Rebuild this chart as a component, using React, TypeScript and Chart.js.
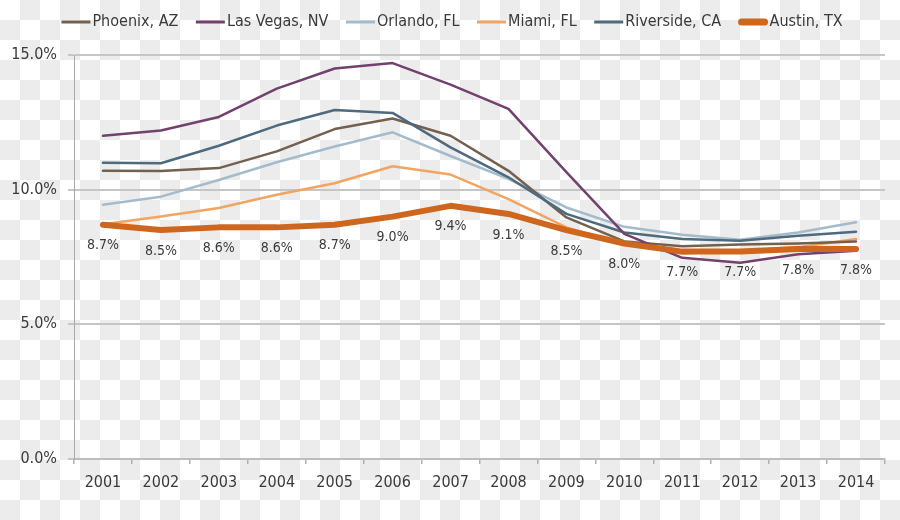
import React, { useEffect, useRef } from 'react';
import { Chart, registerables } from 'chart.js';

Chart.register(...registerables);

const FONT = "'DejaVu Sans Condensed', 'Liberation Sans Narrow', 'DejaVu Sans', sans-serif";
const TEXT = '#3a3a3a';

const years = ['2001', '2002', '2003', '2004', '2005', '2006', '2007', '2008', '2009', '2010', '2011', '2012', '2013', '2014'];
const yTicks = [0, 5, 10, 15];

const phoenix = [10.7, 10.69, 10.8, 11.42, 12.25, 12.64, 12.0, 10.7, 8.97, 8.08, 7.9, 7.96, 8.0, 8.08];
const lasVegas = [12.0, 12.2, 12.7, 13.75, 14.5, 14.7, 13.9, 13.0, 10.65, 8.36, 7.47, 7.29, 7.6, 7.73];
const orlando = [9.44, 9.74, 10.36, 11.02, 11.6, 12.13, 11.25, 10.4, 9.34, 8.62, 8.33, 8.14, 8.41, 8.79];
const miami = [8.72, 9.0, 9.32, 9.81, 10.24, 10.87, 10.56, 9.65, 8.6, 7.98, 7.63, 7.73, 7.86, 8.17];
const riverside = [11.0, 10.98, 11.63, 12.38, 12.96, 12.85, 11.57, 10.46, 9.1, 8.41, 8.17, 8.1, 8.29, 8.44];
const austin = [8.7, 8.5, 8.6, 8.6, 8.7, 9.0, 9.4, 9.1, 8.5, 8.0, 7.7, 7.7, 7.8, 7.8];

const legendPlugin = {
  id: 'topLegend',
  afterDraw(chart: any) {
    const ctx = chart.ctx;
    ctx.save();
    ctx.font = `16px ${FONT}`;
    const lineLen = 29;
    const gap = 2;
    const itemGap = 17.5;
    const items = chart.data.datasets.map((ds: any) => ({ label: ds.label, color: ds.borderColor, w: ds.borderWidth }));
    const widths = items.map((it: any) => lineLen + gap + ctx.measureText(it.label).width);
    const total = widths.reduce((a: number, b: number) => a + b, 0) + itemGap * (items.length - 1);
    let x = 452 - total / 2;
    const y = 22;
    items.forEach((it: any, i: number) => {
      ctx.strokeStyle = it.color;
      ctx.lineWidth = it.w > 4 ? 7 : 3;
      ctx.lineCap = it.w > 4 ? 'round' : 'butt';
      ctx.beginPath();
      const inset = it.w > 4 ? 3 : 0;
      ctx.moveTo(x + inset, y);
      ctx.lineTo(x + lineLen - inset, y);
      ctx.stroke();
      ctx.fillStyle = TEXT;
      ctx.textAlign = 'left';
      ctx.textBaseline = 'middle';
      ctx.fillText(it.label, x + lineLen + gap, y);
      x += widths[i] + itemGap;
    });
    ctx.restore();
  },
};

const labelPlugin = {
  id: 'austinLabels',
  afterDatasetsDraw(chart: any) {
    const idx = chart.data.datasets.findIndex((d: any) => d.label === 'Austin, TX');
    if (idx < 0) return;
    const meta = chart.getDatasetMeta(idx);
    const ctx = chart.ctx;
    ctx.save();
    ctx.font = `14px ${FONT}`;
    ctx.fillStyle = TEXT;
    ctx.textAlign = 'center';
    ctx.textBaseline = 'middle';
    meta.data.forEach((pt: any, i: number) => {
      ctx.fillText(austin[i].toFixed(1) + '%', pt.x, pt.y + 21);
    });
    ctx.restore();
  },
};

export default function App() {
  const ref = useRef<HTMLCanvasElement | null>(null);

  useEffect(() => {
    if (!ref.current) return;
    const mk = (label: string, data: number[], color: string, width: number, order: number) => ({
      label,
      data,
      borderColor: color,
      backgroundColor: color,
      borderWidth: width,
      pointRadius: 0,
      tension: 0,
      fill: false,
      order,
      borderJoinStyle: 'round' as const,
      borderCapStyle: 'round' as const,
    });
    const chart = new Chart(ref.current, {
      type: 'line',
      data: {
        labels: years,
        datasets: [
          mk('Phoenix, AZ', phoenix, '#74604f', 2.5, 3),
          mk('Las Vegas, NV', lasVegas, '#72416e', 2.5, 1),
          mk('Orlando, FL', orlando, '#a3bccb', 2.5, 5),
          mk('Miami, FL', miami, '#f2a562', 2.5, 4),
          mk('Riverside, CA', riverside, '#4e6a7f', 2.5, 2),
          mk('Austin, TX', austin, '#cf661d', 6, 0),
        ],
      },
      options: {
        responsive: false,
        animation: false,
        layout: { padding: { top: 55, right: 15, left: 0, bottom: 0 } },
        plugins: {
          legend: { display: false },
          tooltip: { enabled: false },
          title: { display: false },
        },
        scales: {
          x: {
            offset: true,
            grid: {
              offset: true,
              drawOnChartArea: false,
              drawTicks: true,
              tickLength: 5,
              color: '#b0b0b0',
              lineWidth: 1.5,
            },
            border: { display: true, color: '#bdbdbd', width: 2 },
            ticks: {
              color: TEXT,
              font: { family: FONT, size: 16 },
              padding: 9,
              maxRotation: 0,
              autoSkip: false,
            },
            afterFit(scale: any) {
              scale.height = 61;
            },
          },
          y: {
            min: 0,
            max: 15,
            afterBuildTicks(scale: any) {
              scale.ticks = yTicks.map((v) => ({ value: v }));
            },
            grid: {
              color: '#c6c6c6',
              lineWidth: 2,
              drawTicks: true,
              tickLength: 6,
            },
            border: { display: true, color: '#a8a8a8', width: 1 },
            ticks: {
              color: TEXT,
              font: { family: FONT, size: 16 },
              padding: 11,
              callback: (v: any) => Number(v).toFixed(1) + '%',
            },
            afterFit(scale: any) {
              scale.width = 74;
            },
          },
        },
      },
      plugins: [legendPlugin, labelPlugin],
    });
    return () => chart.destroy();
  }, []);

  return (
    <div
      style={{
        position: 'fixed',
        left: 0,
        top: 0,
        width: 900,
        height: 520,
        background: 'repeating-conic-gradient(#ececec 0 25%, #ffffff 0 50%) 0 0 / 40px 40px',
      }}
    >
      <canvas ref={ref} width={900} height={520} style={{ display: 'block' }} />
    </div>
  );
}
